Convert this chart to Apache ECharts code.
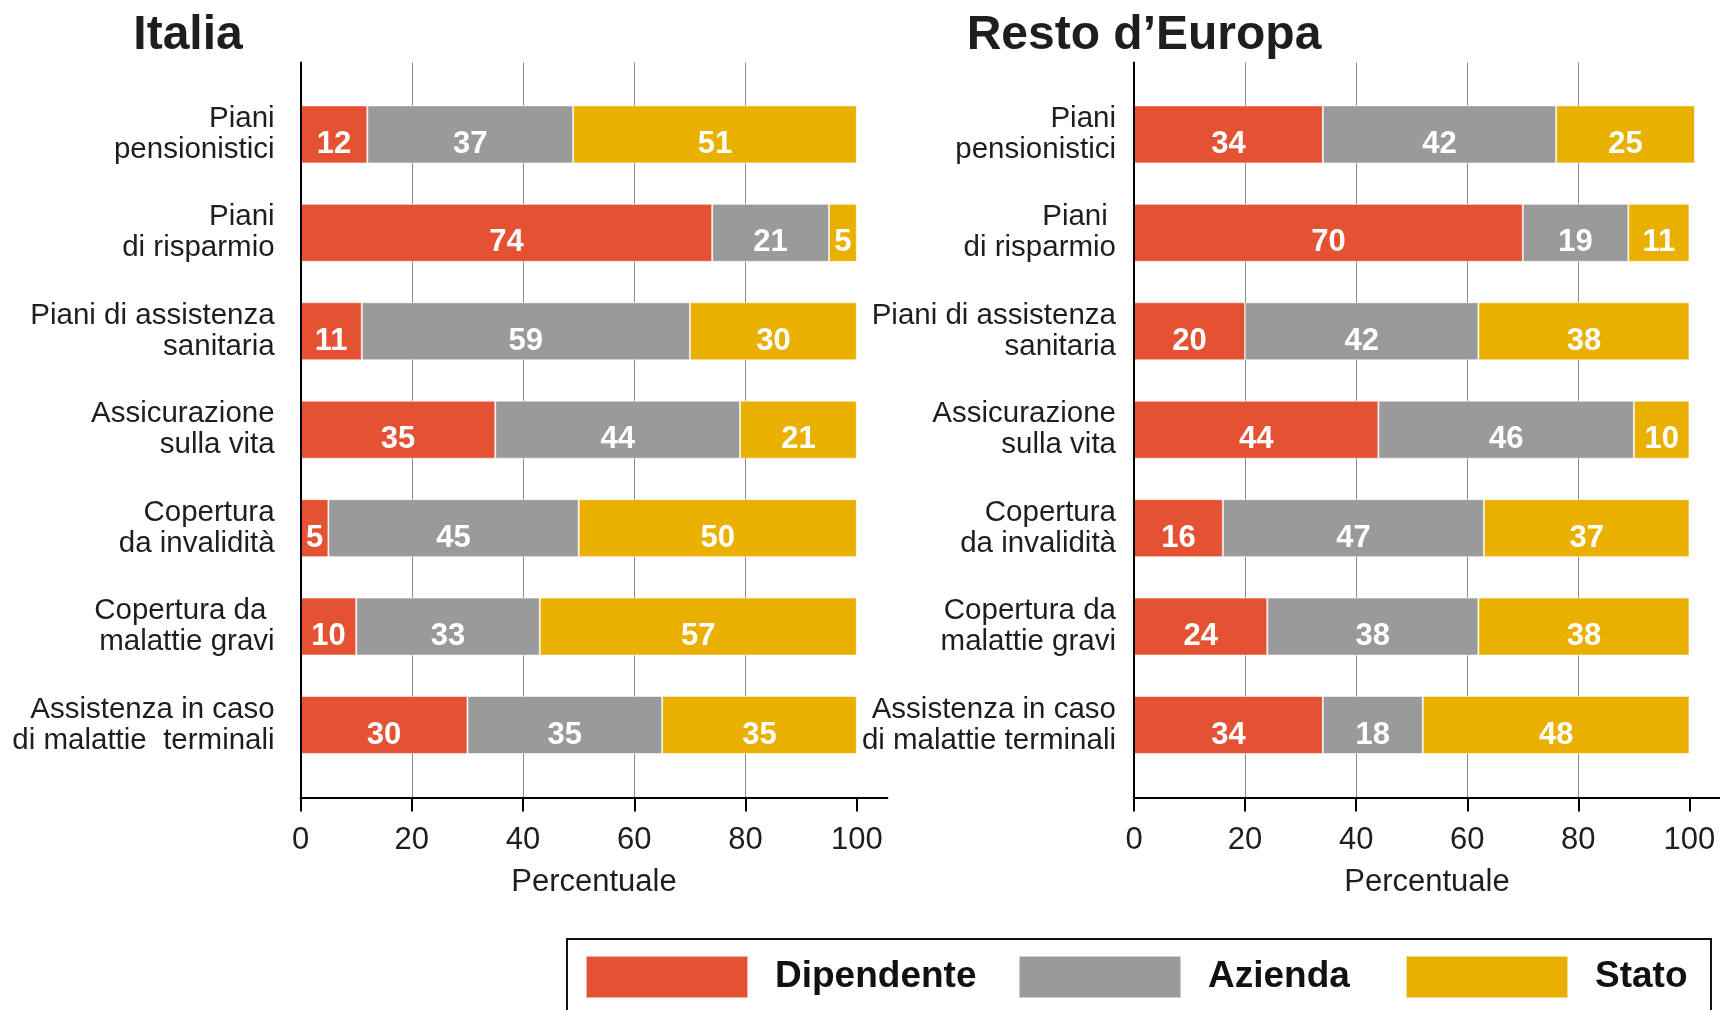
<!DOCTYPE html>
<html>
<head>
<meta charset="utf-8">
<script src="https://cdn.jsdelivr.net/npm/echarts@6/dist/echarts.min.js"></script>
<style>
  html, body { margin: 0; padding: 0; background: #ffffff; }
  #chart { width: 1720px; height: 1010px; }
</style>
</head>
<body>
<div id="chart"></div>
<script>
// Categories (top to bottom) for each panel
const categoriesItalia = [
  'Piani\npensionistici',
  'Piani\ndi risparmio',
  'Piani di assistenza\nsanitaria',
  'Assicurazione\nsulla vita',
  'Copertura\nda invalidità',
  'Copertura da \nmalattie gravi',
  'Assistenza in caso\ndi malattie  terminali'
];
const categoriesEuropa = [
  'Piani\npensionistici',
  'Piani \ndi risparmio',
  'Piani di assistenza\nsanitaria',
  'Assicurazione\nsulla vita',
  'Copertura\nda invalidità',
  'Copertura da\nmalattie gravi',
  'Assistenza in caso\ndi malattie terminali'
];

const seriesNames = ['Dipendente', 'Azienda', 'Stato'];

// Percent shares — Italia
const italiaDipendente = [12, 74, 11, 35, 5, 10, 30];
const italiaAzienda    = [37, 21, 59, 44, 45, 33, 35];
const italiaStato      = [51, 5, 30, 21, 50, 57, 35];

// Percent shares — Resto d'Europa
const europaDipendente = [34, 70, 20, 44, 16, 24, 34];
const europaAzienda    = [42, 19, 42, 46, 47, 38, 18];
const europaStato      = [25, 11, 38, 10, 37, 38, 48];

// Tick labels on the percentage axis
const tickValues = [0, 20, 40, 60, 80, 100];

const colors = ['#E45233', '#9A9A9A', '#EAB000'];
const FONT = '"Liberation Sans", Arial, Helvetica, sans-serif';
const AXIS_MAX = 105.5;

const chart = echarts.init(document.getElementById('chart'), null, { renderer: 'canvas' });

// Panel layout: frame grid carries axis lines, ticks and gridlines;
// bar grid carries the stacked bars and category labels.
const panels = [
  { left: 300.6, width: 586.8, labelMargin: 26,
    cats: categoriesItalia, data: [italiaDipendente, italiaAzienda, italiaStato], stack: 'italia' },
  { left: 1134, width: 586, labelMargin: 18,
    cats: categoriesEuropa, data: [europaDipendente, europaAzienda, europaStato], stack: 'europa' }
];

const grids = [], xAxes = [], yAxes = [], series = [];

panels.forEach((p, pi) => {
  const frameIdx = pi * 2, barIdx = pi * 2 + 1;
  grids.push({ left: p.left, width: p.width, top: 62.5, height: 735 });
  grids.push({ left: p.left, width: p.width, top: 85.2, height: 689 });

  xAxes.push({
    gridIndex: frameIdx, type: 'value', min: 0, max: AXIS_MAX, interval: 20,
    axisLine: { show: true, lineStyle: { color: '#000', width: 2 } },
    axisTick: { show: true, customValues: tickValues, length: 14, lineStyle: { color: '#000', width: 2 } },
    axisLabel: { customValues: tickValues, fontSize: 31, fontFamily: FONT, color: '#1e1e1e', margin: 27 },
    splitLine: { show: true, showMinLine: false, showMaxLine: false, lineStyle: { color: '#8c8c8c', width: 1 } },
    name: 'Percentuale', nameLocation: 'middle', nameGap: 69,
    nameTextStyle: { fontSize: 31, fontFamily: FONT, color: '#1e1e1e' }
  });
  xAxes.push({ gridIndex: barIdx, type: 'value', min: 0, max: AXIS_MAX, show: false });

  yAxes.push({
    gridIndex: frameIdx, type: 'value', min: 0, max: 1, z: 5,
    axisLine: { show: true, lineStyle: { color: '#000', width: 2 } },
    axisTick: { show: false }, axisLabel: { show: false }, splitLine: { show: false }
  });
  yAxes.push({
    gridIndex: barIdx, type: 'category', data: p.cats, inverse: true,
    axisLine: { show: false }, axisTick: { show: false }, splitLine: { show: false },
    axisLabel: { fontSize: 29.5, lineHeight: 31, fontFamily: FONT, color: '#1e1e1e',
      margin: p.labelMargin, align: 'right', padding: [4, 0, 0, 0] }
  });

  seriesNames.forEach((name, si) => {
    series.push({
      type: 'bar', name: name, stack: p.stack,
      xAxisIndex: barIdx, yAxisIndex: barIdx,
      data: p.data[si], barWidth: 58,
      itemStyle: { color: colors[si], borderColor: 'rgba(255,255,255,0.55)', borderWidth: 1 },
      label: {
        show: true, position: 'inside', offset: [0, 10],
        color: '#ffffff', fontWeight: 'bold', fontSize: 31, fontFamily: FONT
      }
    });
  });
});

const legendLefts = [585, 1018, 1405];
const legends = seriesNames.map((n, i) => ({
  data: [n], left: legendLefts[i], top: 955, padding: 0,
  icon: 'rect', itemWidth: 162, itemHeight: 42,
  textStyle: { fontSize: 37, fontWeight: 'bold', fontFamily: FONT, color: '#111', padding: [7, 0, 0, 22] }
}));

chart.setOption({
  animation: false,
  color: colors,
  textStyle: { fontFamily: FONT },
  grid: grids,
  xAxis: xAxes,
  yAxis: yAxes,
  legend: legends,
  series: series,
  graphic: [
    { type: 'text', x: 188, y: 12, style: { text: 'Italia', align: 'center', verticalAlign: 'top',
      font: 'bold 48px ' + FONT, fill: '#1e1e1e' } },
    { type: 'text', x: 1144, y: 12, style: { text: 'Resto d\u2019Europa', align: 'center', verticalAlign: 'top',
      font: 'bold 48px ' + FONT, fill: '#1e1e1e' } },
    { type: 'rect', silent: true, shape: { x: 567, y: 939, width: 1144, height: 100 },
      style: { fill: 'none', stroke: '#111', lineWidth: 2 } }
  ]
});
</script>
</body>
</html>
